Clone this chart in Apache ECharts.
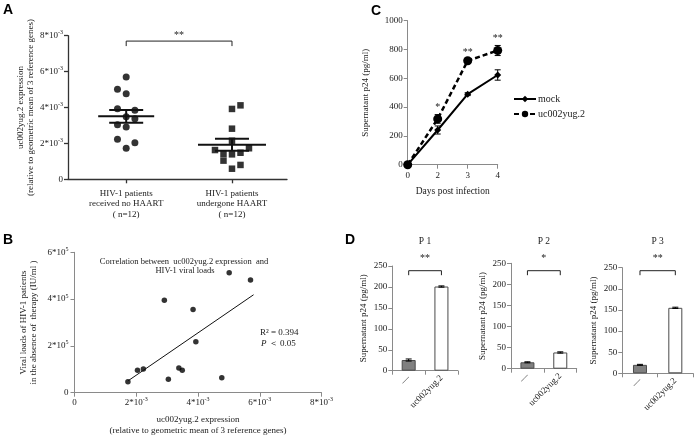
<!DOCTYPE html>
<html><head><meta charset="utf-8">
<script src="https://cdn.jsdelivr.net/npm/echarts@6/dist/echarts.min.js"></script>
<style>html,body{margin:0;padding:0;background:#fff}#c{width:696px;height:437px}</style>
</head><body><div id="c"></div>
<script>
// ---------- DATA ----------
// Panel A (expression values in units of 1e-3)
const aGroups = ['HIV-1 patients\nreceived no HAART\n( n=12)', 'HIV-1 patients\nundergone HAART\n( n=12)'];
const expressionNoHaart = [5.70, 5.01, 4.77, 3.93, 3.84, 3.49, 3.38, 3.04, 2.91, 2.23, 2.04, 1.73];
const expressionHaart = [4.12, 3.92, 2.82, 2.15, 1.73, 1.63, 1.48, 1.41, 1.39, 1.04, 0.80, 0.59];
const noHaartSlots = [0, -1, 0, -1, 1, 0, 1, -1, 0, -1, 1, 0];
const haartSlots = [1, 0, 0, 0, 2, -2, 1, -1, 0, -1, 1, 0];
const aSig = '**';
// Panel B: viral loads (units of 1e5 IU/ml), same patients / order as expressionNoHaart
const viralLoads = [4.82, 5.13, 0.64, 2.18, 3.56, 0.96, 1.06, 0.58, 3.95, 1.01, 0.96, 0.47];
// Panel C
const cDays = ['0', '2', '3', '4'];
const cMock = [0, 241, 490, 623];
const cMockErr = [0, 28, 10, 36];
const cUc = [0, 318, 722, 793];
const cUcErr = [0, 30, 12, 35];
const cSig = ['', '*', '**', '**'];
// Panel D
const dTitles = ['P 1', 'P 2', 'P 3'];
const dCats = ['—', 'uc002yug.2'];
const dMock = [25.5, 15.2, 20];
const dMockErr = [2.5, 1.2, 1.2];
const dUc = [201, 38.5, 155];
const dUcErr = [1.5, 1.5, 1.5];
const dSig = ['**', '*', '**'];

// ---------- HELPERS ----------
const SERIF = 'Liberation Serif';
const TXT = '#1a1a1a';
const AXC = '#8a8a8a';
function supFmt(exp) {
  return v => v === 0 ? '{b|0}' : '{b|' + v + '*10}{s|' + exp + '}';
}
const supRich = {
  b: { fontSize: 9, fontFamily: SERIF, color: TXT, lineHeight: 12, verticalAlign: 'middle' },
  s: { fontSize: 6, fontFamily: SERIF, color: TXT, lineHeight: 6, verticalAlign: 'top' }
};
function meanSem(arr) {
  const n = arr.length, m = arr.reduce((a, b) => a + b, 0) / n;
  const sd = Math.sqrt(arr.reduce((a, b) => a + (b - m) * (b - m), 0) / (n - 1));
  return [m, sd / Math.sqrt(n)];
}
function regression(xs, ys) {
  const n = xs.length, mx = xs.reduce((a, b) => a + b, 0) / n, my = ys.reduce((a, b) => a + b, 0) / n;
  let sxy = 0, sxx = 0;
  for (let i = 0; i < n; i++) { sxy += (xs[i] - mx) * (ys[i] - my); sxx += (xs[i] - mx) * (xs[i] - mx); }
  const b = sxy / sxx; return [my - b * mx, b];
}
function errBar(cap, color) {
  return function (p, api) {
    const x = api.value(0), lo = api.value(1), hi = api.value(2);
    const a = api.coord([x, lo]), b = api.coord([x, hi]);
    const st = { stroke: color, lineWidth: 1 };
    return { type: 'group', children: [
      { type: 'line', shape: { x1: a[0], y1: a[1], x2: b[0], y2: b[1] }, style: st },
      { type: 'line', shape: { x1: a[0] - cap, y1: a[1], x2: a[0] + cap, y2: a[1] }, style: st },
      { type: 'line', shape: { x1: b[0] - cap, y1: b[1], x2: b[0] + cap, y2: b[1] }, style: st }
    ] };
  };
}
function valAxisStyle(color, width) {
  return {
    axisLine: { show: true, lineStyle: { color: color, width: width } },
    axisTick: { show: true, length: 4, lineStyle: { color: color, width: width } },
    splitLine: { show: false }
  };
}

const statsA = [meanSem(expressionNoHaart), meanSem(expressionHaart)];
const reg = regression(expressionNoHaart, viralLoads);
const bMinX = Math.min(...expressionNoHaart), bMaxX = Math.max(...expressionNoHaart);

// ---------- GRIDS ----------
const grids = [
  { left: 68, top: 35.7, width: 219, height: 143.6 },      // A
  { left: 74.5, top: 252.3, width: 247, height: 140.4 },   // B
  { left: 407.7, top: 20.7, width: 90, height: 144 },      // C
  { left: 392.3, top: 266, width: 65.5, height: 104.7 },   // D1
  { left: 511, top: 263.3, width: 65.7, height: 105.4 },   // D2
  { left: 622.3, top: 267.7, width: 70.7, height: 105.6 }  // D3
];

const xAxes = [], yAxes = [], series = [];

// A
xAxes.push(Object.assign({
  type: 'value', gridIndex: 0, min: 0.45, max: 2.52,
  axisLabel: { customValues: [1, 2], formatter: v => aGroups[Math.round(v) - 1], fontSize: 9, color: TXT, lineHeight: 10.5, margin: 9, fontFamily: SERIF }
}, valAxisStyle('#333', 1.3), { axisTick: { show: true, customValues: [1, 2], length: 4, lineStyle: { color: '#333', width: 1.3 } } }));
yAxes.push(Object.assign({
  type: 'value', gridIndex: 0, min: 0, max: 8, interval: 2,
  name: 'uc002yug.2 expression\n(relative to geometric mean of 3 reference genes)',
  nameLocation: 'middle', nameRotate: 90, nameGap: 26,
  nameTextStyle: { fontSize: 9, color: TXT, lineHeight: 10, fontFamily: SERIF },
  axisLabel: { formatter: supFmt('-3'), rich: supRich, margin: 5 }
}, valAxisStyle('#333', 1.3)));
series.push({
  type: 'scatter', xAxisIndex: 0, yAxisIndex: 0, symbol: 'circle', symbolSize: 7,
  itemStyle: { color: '#000' },
  data: expressionNoHaart.map((v, i) => ({ value: [1, v], symbolOffset: [noHaartSlots[i] * 8.7, 0] }))
});
series.push({
  type: 'scatter', xAxisIndex: 0, yAxisIndex: 0, symbol: 'rect', symbolSize: 6.5,
  itemStyle: { color: '#000' },
  data: expressionHaart.map((v, i) => ({ value: [2, v], symbolOffset: [haartSlots[i] * 8.5, 0] }))
});
series.push({
  type: 'custom', xAxisIndex: 0, yAxisIndex: 0, z: 5,
  data: statsA.map((s, i) => [i + 1, s[0], s[1]]),
  renderItem: function (p, api) {
    const x = api.value(0), m = api.value(1), s = api.value(2);
    const c = api.coord([x, m]), hi = api.coord([x, m + s]), lo = api.coord([x, m - s]);
    const mh = p.dataIndex === 0 ? 28 : 34, sh = 17;
    const st = { stroke: '#111', lineWidth: 2 };
    return { type: 'group', children: [
      { type: 'line', shape: { x1: c[0] - mh, y1: c[1], x2: c[0] + mh, y2: c[1] }, style: st },
      { type: 'line', shape: { x1: c[0], y1: hi[1], x2: c[0], y2: lo[1] }, style: st },
      { type: 'line', shape: { x1: c[0] - sh, y1: hi[1], x2: c[0] + sh, y2: hi[1] }, style: st },
      { type: 'line', shape: { x1: c[0] - sh, y1: lo[1], x2: c[0] + sh, y2: lo[1] }, style: st }
    ] };
  }
});
series.push({
  type: 'custom', xAxisIndex: 0, yAxisIndex: 0,
  data: [[1, 2, 7.7]],
  renderItem: function (p, api) {
    const a = api.coord([api.value(0), api.value(2)]), b = api.coord([api.value(1), api.value(2)]);
    return { type: 'group', children: [
      { type: 'polyline', shape: { points: [[a[0], a[1] + 5], [a[0], a[1]], [b[0], b[1]], [b[0], b[1] + 5]] }, style: { stroke: '#222', lineWidth: 1, fill: null } },
      { type: 'text', style: { text: aSig, x: (a[0] + b[0]) / 2, y: a[1] - 1, align: 'center', verticalAlign: 'bottom', fontSize: 10, fontFamily: SERIF, fill: TXT } }
    ] };
  }
});

// B
xAxes.push(Object.assign({
  type: 'value', gridIndex: 1, min: 0, max: 8, interval: 2,
  name: 'uc002yug.2 expression\n(relative to geometric mean of 3 reference genes)',
  nameLocation: 'middle', nameGap: 22,
  nameTextStyle: { fontSize: 9, color: TXT, lineHeight: 10.5, fontFamily: SERIF },
  axisLabel: { formatter: supFmt('-3'), rich: supRich, margin: 4 }
}, valAxisStyle(AXC, 1)));
yAxes.push(Object.assign({
  type: 'value', gridIndex: 1, min: 0, max: 6, interval: 2,
  name: 'Viral loads of HIV-1 patients\nin the absence of  therapy (IU/ml )',
  nameLocation: 'middle', nameRotate: 90, nameGap: 36,
  nameTextStyle: { fontSize: 9, color: TXT, lineHeight: 10, fontFamily: SERIF },
  axisLabel: { formatter: supFmt('5'), rich: supRich, margin: 6 }
}, valAxisStyle(AXC, 1)));
series.push({
  type: 'scatter', xAxisIndex: 1, yAxisIndex: 1, symbol: 'circle', symbolSize: 5.5,
  itemStyle: { color: '#000' },
  data: expressionNoHaart.map((v, i) => [v, viralLoads[i]])
});
series.push({
  type: 'line', xAxisIndex: 1, yAxisIndex: 1, symbol: 'none',
  lineStyle: { color: '#111', width: 1 },
  data: [[bMinX, reg[0] + reg[1] * bMinX], [bMaxX + 0.1, reg[0] + reg[1] * (bMaxX + 0.1)]]
});

// C
xAxes.push(Object.assign({
  type: 'category', gridIndex: 2, data: cDays, boundaryGap: false,
  name: 'Days post infection', nameLocation: 'middle', nameGap: 22,
  nameTextStyle: { fontSize: 9.5, color: TXT, fontFamily: SERIF },
  axisLabel: { fontSize: 9, color: TXT, margin: 6, fontFamily: SERIF }
}, valAxisStyle(AXC, 1)));
yAxes.push(Object.assign({
  type: 'value', gridIndex: 2, min: 0, max: 1000, interval: 200,
  name: 'Supernatant p24 (pg/ml)', nameLocation: 'middle', nameRotate: 90, nameGap: 38,
  nameTextStyle: { fontSize: 9, color: TXT, fontFamily: SERIF },
  axisLabel: { fontSize: 9, color: TXT, margin: 5, fontFamily: SERIF, formatter: v => String(v) }
}, valAxisStyle(AXC, 1)));
series.push({
  name: 'mock', type: 'line', xAxisIndex: 2, yAxisIndex: 2, data: cMock,
  symbol: 'diamond', symbolSize: 7, itemStyle: { color: '#000' },
  lineStyle: { color: '#000', width: 2 }
});
series.push({
  name: 'uc002yug.2', type: 'line', xAxisIndex: 2, yAxisIndex: 2, data: cUc,
  symbol: 'circle', symbolSize: 9, itemStyle: { color: '#000' },
  lineStyle: { color: '#000', width: 2.5, type: [5, 3] }
});
series.push({
  type: 'custom', xAxisIndex: 2, yAxisIndex: 2, z: 3, renderItem: errBar(3, '#000'),
  data: cMock.map((v, i) => [i, v - cMockErr[i], v + cMockErr[i]]).concat(cUc.map((v, i) => [i, v - cUcErr[i], v + cUcErr[i]]))
});
series.push({
  type: 'custom', xAxisIndex: 2, yAxisIndex: 2,
  data: cUc.map((v, i) => [i, v + cUcErr[i]]),
  renderItem: function (p, api) {
    const c = api.coord([api.value(0), api.value(1)]);
    return { type: 'text', style: { text: cSig[p.dataIndex], x: c[0], y: c[1] - 2, align: 'center', verticalAlign: 'bottom', fontSize: 10, fontFamily: SERIF, fill: TXT } };
  }
});

// D
for (let k = 0; k < 3; k++) {
  const gi = 3 + k;
  xAxes.push(Object.assign({
    type: 'category', gridIndex: gi, data: dCats,
    axisLabel: { fontSize: 9, color: TXT, rotate: 45, margin: 6, fontFamily: SERIF, interval: 0 }
  }, valAxisStyle(AXC, 1)));
  yAxes.push(Object.assign({
    type: 'value', gridIndex: gi, min: 0, max: 250, interval: 50,
    name: 'Supernatant p24 (pg/ml)', nameLocation: 'middle', nameRotate: 90, nameGap: 24,
    nameTextStyle: { fontSize: 9, color: TXT, fontFamily: SERIF },
    axisLabel: { fontSize: 9, color: TXT, margin: 5, fontFamily: SERIF }
  }, valAxisStyle(AXC, 1)));
  series.push({
    type: 'bar', xAxisIndex: gi, yAxisIndex: gi, barWidth: 14,
    data: [
      { value: dMock[k], itemStyle: { color: '#808080', borderColor: '#4a4a4a', borderWidth: 1 } },
      { value: dUc[k], itemStyle: { color: '#ffffff', borderColor: '#4a4a4a', borderWidth: 1 } }
    ]
  });
  series.push({
    type: 'custom', xAxisIndex: gi, yAxisIndex: gi, z: 5, renderItem: errBar(3, '#000'),
    data: [[0, dMock[k] - dMockErr[k], dMock[k] + dMockErr[k]], [1, dUc[k] - dUcErr[k], dUc[k] + dUcErr[k]]]
  });
  series.push({
    type: 'custom', xAxisIndex: gi, yAxisIndex: gi,
    data: [[0, 1]],
    renderItem: function (p, api) {
      const a = api.coord([api.value(0), 0]), b = api.coord([api.value(1), 0]);
      const y = 270.7;
      return { type: 'group', children: [
        { type: 'polyline', shape: { points: [[a[0], y + 4.5], [a[0], y], [b[0], y], [b[0], y + 4.5]] }, style: { stroke: '#222', lineWidth: 1, fill: null } },
        { type: 'text', style: { text: dSig[k], x: (a[0] + b[0]) / 2, y: y - 7, align: 'center', verticalAlign: 'bottom', fontSize: 10, fontFamily: SERIF, fill: TXT } },
        { type: 'text', style: { text: dTitles[k], x: (a[0] + b[0]) / 2, y: 241.7, align: 'center', verticalAlign: 'middle', fontSize: 9.5, fontFamily: SERIF, fill: TXT } }
      ] };
    }
  });
}

function letter(t, x, y) {
  return { type: 'text', left: x, top: y, style: { text: t, fontSize: 14, fontWeight: 'bold', fontFamily: 'Liberation Sans', fill: '#000' } };
}

const option = {
  animation: false,
  backgroundColor: '#fff',
  textStyle: { fontFamily: SERIF },
  grid: grids,
  xAxis: xAxes,
  yAxis: yAxes,
  legend: {
    data: ['mock', 'uc002yug.2'], orient: 'vertical', left: 508, top: 89, itemGap: 5,
    itemWidth: 22, itemHeight: 8, textStyle: { fontSize: 10, color: TXT, fontFamily: SERIF, padding: [0, 0, 0, -3] }
  },
  series: series,
  graphic: [
    letter('A', 3, 3), letter('B', 3, 233), letter('C', 371, 4), letter('D', 345, 233),
    { type: 'text', x: 184, y: 261.7, style: { text: 'Correlation between  uc002yug.2 expression  and', align: 'center', verticalAlign: 'middle', fontSize: 8.5, fontFamily: SERIF, fill: TXT } },
    { type: 'text', x: 185, y: 271, style: { text: 'HIV-1 viral loads', align: 'center', verticalAlign: 'middle', fontSize: 8.5, fontFamily: SERIF, fill: TXT } },
    { type: 'text', x: 260, y: 333, style: { text: 'R² = 0.394', align: 'left', verticalAlign: 'middle', fontSize: 9, fontFamily: SERIF, fill: TXT } },
    { type: 'text', x: 261, y: 343.5, style: { text: '{i|P} ＜ 0.05', align: 'left', verticalAlign: 'middle', fontSize: 9, fontFamily: SERIF, fill: TXT, rich: { i: { fontStyle: 'italic', fontSize: 9, fontFamily: SERIF, fill: TXT } } } }
  ]
};

const chart = echarts.init(document.getElementById('c'));
chart.setOption(option);
</script>
</body></html>
